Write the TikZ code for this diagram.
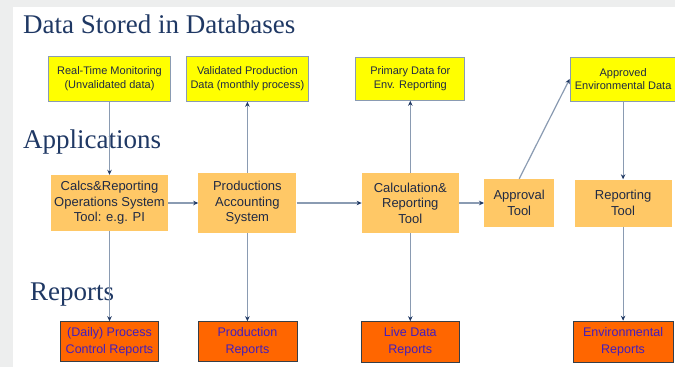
\documentclass[tikz,border=0pt]{standalone}
\usepackage{fontspec}
\setmainfont{Liberation Serif}
\setsansfont{Liberation Sans}
\usetikzlibrary{positioning, arrows.meta}

\definecolor{headnavy}{RGB}{31,56,100}
\definecolor{boxtext}{RGB}{32,42,68}
\definecolor{reptext}{RGB}{66,30,190}
\definecolor{dbyellow}{RGB}{255,255,0}
\definecolor{applorange}{RGB}{255,200,102}
\definecolor{reporange}{RGB}{255,102,0}
\definecolor{linegray}{RGB}{138,155,178}
\definecolor{framegray}{RGB}{237,238,238}

\begin{document}
\begin{tikzpicture}[
    x=1pt, y=1pt,
    databox/.style={draw=linegray, line width=0.8pt, fill=dbyellow, text=boxtext, align=center,
        font=\sffamily\fontsize{11}{13.5}\selectfont, inner sep=2pt, minimum height=45pt},
    appbox/.style={fill=applorange, text=boxtext, align=center,
        font=\sffamily\fontsize{13}{15.5}\selectfont, inner sep=2pt},
    reportbox/.style={draw=black!60!linegray, line width=0.8pt, fill=reporange, text=reptext, align=center,
        font=\sffamily\fontsize{12.5}{17}\selectfont, inner sep=2pt, minimum height=40pt},
    headstyle/.style={text=headnavy, font=\fontsize{27}{30}\selectfont, inner sep=0pt, anchor=base west},
    flow/.style={draw=linegray, line width=1.2pt, -{Stealth[length=5pt, width=4.5pt, color=headnavy]}}
]

% background frame
\useasboundingbox (0,0) rectangle (675,-367);
\fill[framegray] (0,0) rectangle (675,-367);
\fill[white] (13,-7) rectangle (675,-367);

% Section headings
\node (db_head) [headstyle] at (23,-33) {Data Stored in Databases};
\node (app_head) [headstyle] at (23,-148) {Applications};
\node (rep_head) [headstyle] at (30,-300) {Reports};

% Applications row
\node (calcs) [appbox, minimum width=117pt, minimum height=56pt] at (109.5,-203) {Calcs\&Reporting\\Operations System\\Tool: e.g. PI};
\node (prodacc) [appbox, minimum width=98pt, minimum height=60pt, right=30pt of calcs] {Productions\\Accounting\\System};
\node (calctool) [appbox, minimum width=97pt, minimum height=60pt, right=65pt of prodacc] {Calculation\&\\Reporting\\Tool};
\node (approval) [appbox, minimum width=70pt, minimum height=48pt, right=25pt of calctool] {Approval\\Tool};
\node (reptool) [appbox, minimum width=97pt, minimum height=47pt, right=20pt of approval] {Reporting\\Tool};

% Databases row
\node (rtmon) [databox, minimum width=122pt, above=73pt of calcs] {Real-Time Monitoring\\(Unvalidated data)};
\node (valprod) [databox, minimum width=122pt, above=71pt of prodacc] {Validated Production\\Data (monthly process)};
\node (primdata) [databox, minimum width=109pt, minimum height=43pt, above=72pt of calctool] {Primary Data for\\Env. Reporting};
\node (apprdata) [databox, minimum width=106pt, minimum height=44pt, above=78pt of reptool] {Approved\\Environmental Data};

% Reports row
\node (dailyrep) [reportbox, minimum width=98pt, below=90pt of calcs] {(Daily) Process\\Control Reports};
\node (prodrep) [reportbox, minimum width=99pt, below=88pt of prodacc] {Production\\Reports};
\node (liverep) [reportbox, minimum width=98pt, minimum height=41pt, below=88pt of calctool] {Live Data\\Reports};
\node (envrep) [reportbox, minimum width=100pt, minimum height=41pt, below=94pt of reptool] {Environmental\\Reports};

% Connectors
\draw[flow] (rtmon) -- (calcs);
\draw[flow] (calcs) -- (dailyrep);
\draw[flow] (calcs) -- (prodacc);
\draw[flow] (prodacc) -- (valprod);
\draw[flow] (prodacc) -- (prodrep);
\draw[flow] (prodacc) -- (calctool);
\draw[flow] (calctool) -- (primdata);
\draw[flow] (calctool) -- (liverep);
\draw[flow] (calctool) -- (approval);
\draw[flow] (approval.north) -- (apprdata.west);
\draw[flow] (apprdata) -- (reptool);
\draw[flow] (reptool) -- (envrep);

\end{tikzpicture}
\end{document}
